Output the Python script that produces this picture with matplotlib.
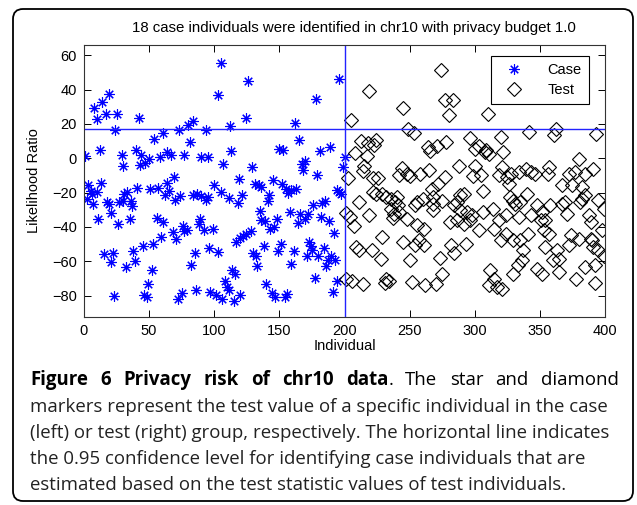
import matplotlib
matplotlib.use("Agg")
import matplotlib.pyplot as plt
from matplotlib.patches import FancyBboxPatch
from matplotlib.transforms import IdentityTransform

# =========================
# DATA
# =========================

case_x = [1, 8, 10, 12, 14, 17, 19, 25, 24, 29, 30, 42, 40, 44, 43, 47, 50, 54, 58, 61,
          64, 67, 69, 73, 77, 80, 81, 84, 90, 94, 95,
          3, 2, 5, 6, 7, 10, 13, 11, 15, 18, 19, 21, 22, 21, 23, 26, 27, 30, 31,
          32, 33, 35, 36, 37, 38, 39, 41, 45, 46, 48, 49, 51, 52, 53, 56, 57, 59, 61, 62,
          64, 65, 68, 71, 70, 72, 74, 76, 77, 79, 75, 82, 84, 85, 86, 87, 88, 89, 90, 92,
          94, 95, 96, 97,
          105, 126, 103, 178, 196, 112, 124, 162, 113, 107, 129, 119, 150, 153, 165, 167,
          170, 168, 181, 189, 179, 145,
          100, 105, 111, 118, 121, 131, 134, 136, 142, 141, 152, 155, 157, 159, 163, 194,
          176, 183, 185, 158, 135, 136, 139, 148, 166, 170, 172, 164, 182, 188, 192, 99,
          143, 146, 128, 124, 122, 120, 117, 103, 130, 132, 138, 149, 151, 161, 173, 174,
          175, 171, 180, 184, 187, 186, 190, 193, 133, 159, 114, 116, 177, 194, 108, 110,
          111, 140, 101, 106, 115, 120, 144, 147, 154, 156, 191,
          200, 199, 196, 197]
case_y = [1.3, 29, 23, 4.7, 32.5, 25.6, 37.3, 26, 16.7, 1.7, -4.7, 23.7, 4.7, 2, -4, -2.7, -0.6, 11.5, 0.8, 15,
          3.7, 1.7, -11, 16.3, 2.1, 19.6, 9.7, 22, 0.8, 16.7, 0.8,
          -15.7, -23.5, -19, -20.6, -26.4, -19.6, -14.4, -35.6, -56, -25.5, -26.4, -31.7, -55.2, -60.6, -80, -38.5, -25.5, -25, -21,
          -63.6, -19.8, -35.2, -24.9, -27.8, -54.2, -59.9, -17.1, -50.9, -79.5, -81, -73.3, -17.7, -64.9, -50, -34.8, -17.3, -45.9, -37.1, -21.6,
          -14.4, -19, -43, -46.8, -24.5, -81.8, -22.2, -39.7, -42.4, -41.6, -78.5, -62, -21.2, -55, -77, -21, -38.5, -35.2, -22.2, -42,
          -24.5, -22.6, -52.3, -78,
          55.6, 45, 36.7, 34.4, 46, 18.8, 23.5, 20.6, 4.1, -3.1, -5, -11.8, 5.2, 5.1, 10.5, -3.1,
          -1.6, -6.6, 4.1, 6.6, -9.5, -12.4,
          -15.7, -19.6, -23.1, -26, -21.6, -14.8, -15.7, -16.7, -21.6, -25.1, -14.8, -17.7, -20.2, -18.7, -17.7, -18.7,
          -27.4, -25.8, -25, -31.3, -30.7, -35.7, -36.7, -35.2, -32.7, -35.2, -32.2, -37.5, -34.2, -36.5, -43.5, -41,
          -41, -40, -42.4, -44.3, -45.5, -46.5, -48.8, -54.6, -55.2, -57.1, -51.3, -54.2, -49.7, -54.2, -48.8, -51.3,
          -53.2, -57.1, -57.1, -52.3, -59, -63, -57.1, -59, -63, -61.8, -64.9, -67.2, -69.8, -71.7, -71.5, -75,
          -77, -73.5, -79.9, -81.8, -83.4, -79.9, -78.5, -81, -80.9, -78.9, -78,
          0.8, -5, -19.6, -21]

test_x = [205, 219, 245, 274, 277, 283, 280, 310, 249, 253, 213, 218, 224, 223, 208, 217, 215, 214, 264, 266,
          271, 278, 296, 300, 303, 308, 288, 300, 244, 248, 250, 242, 258, 265, 203, 222, 226, 277, 299, 305,
          272, 267, 306, 222, 224, 229, 232, 236, 240, 239, 241, 211, 256, 260, 268, 268, 275, 286, 289, 292,
          284, 236, 238, 242, 237, 248, 254, 268, 219, 201, 204, 207, 281, 286, 292, 296, 298, 294, 289, 306,
          256, 261, 303, 229, 245, 254, 257, 261, 209, 211, 221, 282, 284, 293, 228, 250, 273, 275, 201, 206,
          214, 232, 234, 231, 252, 262, 270, 311,
          320, 342, 362, 361, 393, 309, 311, 322, 321, 357, 356, 380, 372, 377, 385, 391, 328, 334, 339, 343,
          346, 319, 325,
          326, 340, 327, 331, 329, 335, 367, 375, 382, 385, 382, 381, 395, 399, 367, 369, 371, 358, 348, 352,
          354, 351, 343, 334, 324, 319, 314, 388, 389, 398, 315, 324, 329, 335, 341, 353, 357, 374, 380, 372,
          320, 389, 390, 391, 395, 399, 337, 336, 333, 329, 354, 363, 360, 365, 312, 315, 317, 321, 348, 352,
          365, 385, 392, 378, 392]
test_y = [22.2, 39.2, 29, 51.3, 33.8, 33.8, 25, 26, 17.3, 14.8, 9.9, 8.9, 10.9, 7.6, 3.1, 1.2, -4.7, -7.6, 6.6, 4.3,
          7, 9.2, 12, 5.6, 7, 3.5, -4.7, -4.7, -5.4, -9, -10.5, -9.9, -9, -7, -11.3, -11.3, -11.3, -10.9, -10.5, -9.9,
          -14.8, -17.7, -19, -19.6, -21, -20.6, -22.6, -23.5, -22.6, -25.5, -27.4, -25.5, -25.5, -23.5, -22.6, -26.8, -24.9, -25.5, -21.6, -20.6,
          -27.4, -29.3, -32.2, -31.3, -34.8, -35.2, -27.4, -30.3, -33.2, -31.9, -34.2, -39.7, -37.1, -35.7, -38.1, -35.7, -33.2, -31.3, -30.3, -31.3,
          -39.1, -41, -42, -45.9, -48.8, -50.7, -47.8, -50.7, -51.7, -53.6, -53.6, -50.7, -55.2, -50.1, -58.5, -59.1, -57.9, -67.6, -70.2, -71.5,
          -73.1, -70.2, -71.5, -72.7, -72.1, -74, -73.5, -74,
          12.4, 15.3, 17.3, 13.4, 14.4, 4.7, 2.7, 3.7, -5, -5, -9, -0.2, -9, -8, -9, -6, -9, -8, -6, -8,
          -9, -10, -11,
          -14.8, -20.6, -22.6, -26.4, -24.9, -25.5, -15.7, -15.7, -16.7, -21.6, -23.5, -25.5, -24.1, -29.3, -26.4, -25.5, -32.2, -27.4, -27.4, -31.3,
          -36.2, -35.7, -33.2, -34.2, -33.2, -35.7, -29.3, -33.2, -37.1, -42, -41, -43.9, -47.8, -47.8, -43.9, -42, -43.9, -44.9, -46.8, -50.7,
          -47.8, -46.8, -47.8, -51.7, -53.6, -57.1, -53.6, -59.5, -62.4, -67.2, -51.7, -53.6, -59.5, -58.5, -65.3, -70.2, -75, -76, -64.3, -67.2,
          -66.3, -63.4, -62.4, -70.2, -72.7]

threshold = 16.9
split_at = 200
x_ticks = [0, 50, 100, 150, 200, 250, 300, 350, 400]
y_ticks = [-80, -60, -40, -20, 0, 20, 40, 60]

title_text = "18 case individuals were identified in chr10 with privacy budget 1.0"
caption_first = [("Figure", "bold"), ("6", "bold"), ("Privacy", "bold"), ("risk", "bold"),
                 ("of", "bold"), ("chr10", "bold"), ("data", "bold"), ("The", "normal"),
                 ("star", "normal"), ("and", "normal"), ("diamond", "normal")]
caption_rest = [
    "markers represent the test value of a specific individual in the case",
    "(left) or test (right) group, respectively. The horizontal line indicates",
    "the 0.95 confidence level for identifying case individuals that are",
    "estimated based on the test statistic values of test individuals.",
]

# =========================
# FIGURE
# =========================

W, H = 637, 505
plt.rcParams["font.family"] = ["Liberation Sans", "DejaVu Sans"]
fig = plt.figure(figsize=(W / 100, H / 100), dpi=100)

ax = fig.add_axes([84 / W, 1 - 317 / H, (605 - 84) / W, (317 - 45) / H])

ax.plot(case_x, case_y, linestyle="none", marker=(8, 2, 0), markersize=7.5,
        markeredgewidth=0.8, color="blue", label="Case")
ax.plot(test_x, test_y, linestyle="none", marker="D", markersize=6.8,
        markerfacecolor="none", markeredgecolor="black", markeredgewidth=0.8,
        label="Test")

ax.axhline(threshold, color="#2222ff", linewidth=1.0)
ax.axvline(split_at, color="#2222ff", linewidth=1.0)

ax.set_xlim(0, 400)
ax.set_ylim(-92.5, 66)
ax.set_xticks(x_ticks)
ax.set_yticks(y_ticks)
ax.tick_params(direction="in", top=True, right=True, length=5, width=0.7,
               labelsize=10.5, pad=5)
for s in ax.spines.values():
    s.set_linewidth(0.8)
    s.set_color("#333333")

ax.set_xlabel("Individual", fontsize=10.5, labelpad=1)
ax.set_ylabel("Likelihood Ratio", fontsize=10.5, labelpad=8)

leg = ax.legend(loc="upper right", bbox_to_anchor=(589 / W, 1 - 56 / H),
                bbox_transform=fig.transFigure, borderaxespad=0, fontsize=10.5,
                fancybox=False, framealpha=1, edgecolor="black",
                handlelength=2.2, handletextpad=1.2, borderpad=0.5,
                labelspacing=0.4)
leg.get_frame().set_linewidth(0.8)

fig.text(354 / W, 1 - 28 / H, title_text, ha="center", va="center", fontsize=10.8)

# rounded frame around figure + caption
frame = FancyBboxPatch((13, 4), 620, 492, boxstyle="round,pad=0,rounding_size=10",
                       transform=IdentityTransform(), facecolor="none",
                       edgecolor="black", linewidth=1.3)
fig.add_artist(frame)

# =========================
# CAPTION
# =========================

fig.canvas.draw()
rend = fig.canvas.get_renderer()
cap_font = ["Open Sans", "DejaVu Sans"]


def text_width(s, size, weight="normal"):
    t = fig.text(0, 0, s, fontsize=size, family=cap_font, fontweight=weight)
    w = t.get_window_extent(rend).width
    t.remove()
    return w


cap_size = 12 * 576 / text_width(caption_rest[0], 12)
left_px, right_px = 30, 619
baselines = [385, 411.5, 438, 464, 490]

# first line: justified, bold lead-in
words_w = [text_width(w, cap_size, wt) for w, wt in caption_first]
dot_w = text_width(".", cap_size)
total = sum(words_w) + dot_w
gap = (right_px - left_px - total) / (len(caption_first) - 1)
x = left_px
for (w, wt), ww in zip(caption_first, words_w):
    fig.text(x / W, 1 - baselines[0] / H, w, fontsize=cap_size, family=cap_font,
             fontweight=wt, ha="left", va="baseline")
    x += ww
    if w == "data":
        fig.text(x / W, 1 - baselines[0] / H, ".", fontsize=cap_size,
                 family=cap_font, ha="left", va="baseline")
        x += dot_w
    x += gap

for line, b in zip(caption_rest, baselines[1:]):
    fig.text(left_px / W, 1 - b / H, line, fontsize=cap_size, family=cap_font,
             ha="left", va="baseline", color="#222222")

fig.savefig("out.png", dpi=100)
